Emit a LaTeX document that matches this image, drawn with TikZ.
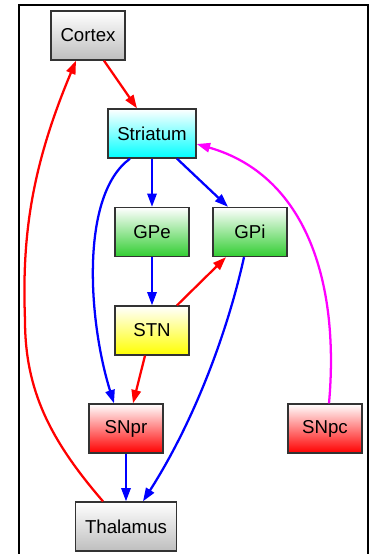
\documentclass[tikz,border=0pt]{standalone}
\usepackage{fontspec}
\setmainfont{Liberation Sans}
\usepackage{tikz}
\usetikzlibrary{calc,arrows.meta}

\definecolor{boxgray}{RGB}{190,190,190}
\definecolor{boxgreen}{RGB}{50,205,50}
\definecolor{edgered}{RGB}{255,0,0}
\definecolor{edgeblue}{RGB}{0,0,255}
\definecolor{edgemag}{RGB}{255,0,255}

\tikzset{
  area/.style={draw=black!80, line width=1pt, minimum width=55.5pt,
    minimum height=36.75pt, inner xsep=7pt,
    font=\fontsize{14pt}{16pt}\selectfont, top color=white},
  grayarea/.style={area, bottom color=boxgray},
  cyanarea/.style={area, bottom color=cyan},
  greenarea/.style={area, bottom color=boxgreen},
  yellowarea/.style={area, bottom color=yellow},
  redarea/.style={area, bottom color=red},
  link/.style={line width=1.7pt, -{Triangle[length=10pt,width=7pt]}},
  excite/.style={link, draw=edgered},
  inhib/.style={link, draw=edgeblue},
  dopa/.style={link, draw=edgemag}
}

\begin{document}
\begin{tikzpicture}[x=0.75pt,y=-0.75pt]
\useasboundingbox (0,0) rectangle (372,554);
% outer frame, open at the bottom
\draw[line width=1.5pt] (19,554) -- (19,5) -- (368,5) -- (368,554);

\node[grayarea] (cortex) at (88,35.5) {Cortex};
\node[cyanarea] (striatum) at (152,133.5) {Striatum};
\node[greenarea] (gpe) at (152,232) {GPe};
\node[greenarea] (gpi) at (250,232) {GPi};
\node[yellowarea] (stn) at (152,330.5) {STN};
\node[redarea] (snpr) at (126,428.5) {SNpr};
\node[redarea] (snpc) at (325,428.5) {SNpc};
\node[grayarea] (thalamus) at (126,526.5) {Thalamus};

\draw[excite] ($(cortex.south)+(16,0)$) -- ($(striatum.north)+(-15,0)$);
\draw[inhib] (striatum.south) -- (gpe.north);
\draw[inhib] ($(striatum.south)+(25,0)$) -- ($(gpi.north)+(-22,0)$);
\draw[inhib] ($(striatum.south)+(-22,0)$)
  .. controls (80,195) and (88,320) .. ($(snpr.north)+(-12,0)$);
\draw[inhib] (gpe.south) -- (stn.north);
\draw[excite] ($(stn.north)+(25,0)$) -- ($(gpi.south)+(-24,0)$);
\draw[excite] ($(stn.south)+(-7,0)$) -- ($(snpr.north)+(7,0)$);
\draw[inhib] ($(gpi.south)+(-6,0)$)
  .. controls (228,330) and (195,420) .. ($(thalamus.north)+(17,0)$);
\draw[inhib] (snpr.south) -- (thalamus.north);
\draw[excite] ($(thalamus.north)+(-23,0)$)
  .. controls (50,440) and (25,390) .. (25,320)
  .. controls (22,240) and (30,170) .. ($(cortex.south)+(-12,0)$);
\draw[dopa] ($(snpc.north)+(4,0)$)
  .. controls (340,280) and (305,175) .. ($(striatum.east)+(0,10.5)$);
\end{tikzpicture}
\end{document}
